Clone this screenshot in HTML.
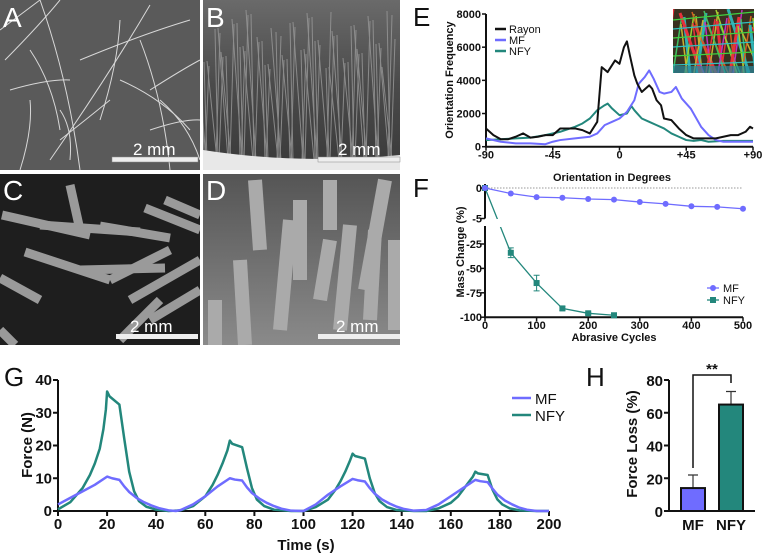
<!DOCTYPE html>
<html><head><meta charset="utf-8">
<style>
html,body{margin:0;padding:0;background:#fff;width:764px;height:556px;overflow:hidden}
svg{display:block;font-family:"Liberation Sans",Arial,sans-serif}
.tk{font-weight:bold;font-size:11px;fill:#111}
.tg{font-weight:bold;font-size:15px;fill:#111}
</style></head>
<body>
<svg id="fig" width="764" height="556" viewBox="0 0 764 556">
<defs>
<linearGradient id="gB" x1="0" y1="0" x2="0" y2="1"><stop offset="0" stop-color="#6a6a6a"/><stop offset="0.5" stop-color="#4a4a4a"/><stop offset="1" stop-color="#3a3a3a"/></linearGradient>
<linearGradient id="gD" x1="0" y1="0" x2="0" y2="1"><stop offset="0" stop-color="#555"/><stop offset="1" stop-color="#8a8a8a"/></linearGradient>
<clipPath id="cA"><rect x="0" y="0" width="200" height="170"/></clipPath>
<clipPath id="cB"><rect x="203" y="0" width="197" height="170"/></clipPath>
<clipPath id="cC"><rect x="0" y="174" width="200" height="171"/></clipPath>
<clipPath id="cD"><rect x="203" y="174" width="197" height="171"/></clipPath>
<clipPath id="cI"><rect x="673" y="9" width="81" height="64"/></clipPath>
</defs>

<g clip-path="url(#cA)">
<rect x="0" y="0" width="200" height="170" fill="#5a5a5a"/>
<g id="fibA" stroke="#d8d8d8" stroke-width="1" fill="none"></g>
</g>
<g clip-path="url(#cB)">
<rect x="203" y="0" width="197" height="170" fill="url(#gB)"/>
<g id="fibB" stroke="#9a9a9a" stroke-width="1" fill="none" opacity="0.8"></g>
<path d="M203,150 Q300,165 400,155 L400,170 L203,170 Z" fill="#e8e8e8"/>
</g>
<g clip-path="url(#cC)">
<rect x="0" y="174" width="200" height="171" fill="#1e1e1e"/>
<g id="rodC" stroke="#9a9a9a" stroke-width="9" stroke-linecap="butt" fill="none"></g>
</g>
<g clip-path="url(#cD)">
<rect x="203" y="174" width="197" height="171" fill="url(#gD)"/>
<g id="rodD" stroke="#aaa" stroke-width="14" fill="none"></g>
</g>
<g>
<rect x="112" y="157" width="86" height="5" fill="#eee" stroke="#888" stroke-width="0.5"/>
<rect x="318" y="157" width="82" height="5" fill="#eee" stroke="#888" stroke-width="0.5"/>
<rect x="116" y="334" width="82" height="5" fill="#eee"/>
<rect x="318" y="334" width="82" height="5" fill="#eee"/>
<g font-size="17" fill="#fff">
<text x="133" y="155">2 mm</text><text x="338" y="155">2 mm</text>
<text x="130" y="332">2 mm</text><text x="336" y="332">2 mm</text>
</g>
</g>
<g font-size="28" fill="#fff">
<text x="3" y="27">A</text><text x="206" y="27">B</text><text x="3" y="200">C</text><text x="206" y="200">D</text>
</g>

<g font-size="26" fill="#111">
<text x="413" y="26">E</text><text x="413" y="197">F</text><text x="4" y="386">G</text><text x="586" y="386">H</text>
</g>

<g id="chartE"></g>
<g clip-path="url(#cI)">
<rect x="673" y="9" width="81" height="64" fill="#3a3020"/>
<g id="insetLines" stroke-width="2"></g>
</g>
<g id="chartF"></g>
<g id="chartG"></g>
<g id="chartH"></g>
</svg>
<script>
// ---------- Panel E data ----------
const eRayonX=[-90,-85,-80,-75,-70,-65,-60,-55,-50,-45,-40,-35,-30,-25,-20,-15,-12,-8,-3,0,3,5,7,10,12,15,20,22,25,28,30,35,40,45,50,55,60,65,70,75,80,85,88,90];
const eRayonY=[1100,700,450,450,600,800,550,600,700,700,1100,1100,1100,1000,800,1500,4800,4500,5200,5000,6000,6350,5500,4300,3800,3300,3700,3500,2800,2500,1700,1600,1100,700,500,500,500,500,600,700,700,900,1200,1100];
const eMFX=[-90,-80,-70,-60,-50,-45,-40,-30,-20,-15,-10,-5,0,5,10,13,17,20,23,27,30,35,38,42,48,55,60,65,70,80,90];
const eMFY=[500,300,200,200,150,300,400,500,600,800,1300,1500,1700,2100,2800,3800,4200,4600,4100,3300,3200,3300,3600,2900,2300,1200,700,400,300,300,300];
const eNFYX=[-90,-80,-70,-60,-50,-40,-30,-25,-20,-15,-10,-8,-5,0,5,8,10,15,20,25,30,35,40,45,50,55,60,70,80,90];
const eNFYY=[400,450,500,550,700,900,1200,1400,1700,2200,2500,2600,2300,1900,2000,2450,2200,1700,1500,1300,1100,800,600,400,350,400,300,350,350,350];
const eXTicks=[-90,-45,0,45,90];
const eXTickLabels=["-90","-45","0","+45","+90"];
const eYTicks=[0,2000,4000,6000,8000];
// ---------- Panel F data ----------
const fCycles=[0,50,100,150,200,250,300,350,400,450,500];
const fMF=[0,-0.9,-1.5,-1.6,-1.8,-1.9,-2.3,-2.6,-3.0,-3.1,-3.4];
const fNFYCycles=[0,50,100,150,200,250];
const fNFY=[0,-34,-65,-91,-96,-98];
const fNFYErr=[0,5,8,2,1,0];
const fXTicks=[0,100,200,300,400,500];
const fYTicksTop=[0,-5];
const fYTicksBottom=[-25,-50,-75,-100];
// ---------- Panel G data ----------
const gNFYT=[0,5,10,13,15,17,18.5,19.5,20,21,25,27,29,31,33,36,40,45,50,55,60,63,65,67,69,70,71,75,77,79,81,84,88,95,100,105,110,113,115,117,119,120,121,125,127,129,131,134,138,145,150,155,160,163,165,167,169,170,171,175,177,179,181,184,188,195,200];
const gNFYF=[0.5,2.7,7,11,14.5,19,25,31,36.5,35,32.5,22,12,6,3,1.3,0.4,0,0.2,1.5,4.5,8,11,14.5,18.5,21.5,20.5,19.5,13,7,3.5,1.5,0.4,0,0,1.2,3.5,6.5,9,12,15.5,17.5,16.8,16,10,5.5,3,1.2,0.3,0,0,0.8,2.5,4.5,6.5,8.5,10.5,12,11.5,11,6.5,3.5,2,0.8,0.2,0,0];
const gMFT=[0,5,10,15,20,22,25,27,29,32,35,38,41,45,48,50,55,60,65,70,72,75,77,79,82,85,88,91,95,100,105,110,115,120,122,125,127,129,132,135,138,141,145,150,155,160,165,170,172,175,177,179,182,185,188,191,195,200];
const gMFF=[2,4,6,8,10.5,10,9.5,7.5,5.8,4,2.7,1.7,0.9,0.2,0,0.3,2,4.5,7.5,10,9.6,9.3,7.2,5.5,3.8,2.5,1.5,0.7,0.1,0,2,5,7.5,9.8,9.4,9,7,5.3,3.5,2.3,1.3,0.6,0.1,0.3,2,4.5,7,9.5,9.1,8.8,6.8,5,3.2,2,1,0.4,0,0];
const gXTicks=[0,20,40,60,80,100,120,140,160,180,200];
const gYTicks=[0,10,20,30,40];
// ---------- Panel H data ----------
const hCats=["MF","NFY"];
const hVals=[14,65];
const hErr=[8,8];
const hYTicks=[0,20,40,60,80];

const NS="http://www.w3.org/2000/svg";
function mk(parent,tag,attrs,txt){const e=document.createElementNS(NS,tag);for(const k in attrs)e.setAttribute(k,attrs[k]);if(txt!==undefined)e.textContent=txt;parent.appendChild(e);return e;}
const MFC="#6f6cff", NFYC="#23877c";

// ---------- E ----------
(function(){
const g=document.getElementById('chartE');
const x=v=>486+(v+90)/180*267, y=v=>146.7-v/8000*132.7;
let ax=mk(g,'path',{d:`M${x(-90)},${y(8000)}V${y(0)}H${x(90)}`,stroke:'#111','stroke-width':2,fill:'none'});


eYTicks.forEach(v=>{mk(g,'line',{x1:x(-90)-4,x2:x(-90),y1:y(v),y2:y(v),stroke:'#111','stroke-width':1.5});
 const t=mk(g,'text',{x:x(-90)-5,y:y(v)+4,'text-anchor':'end',class:'tk'},v);
 
 });
eXTicks.forEach((v,i)=>{mk(g,'line',{x1:x(v),x2:x(v),y1:y(0),y2:y(0)+4,stroke:'#111','stroke-width':1.5});
 const t=mk(g,'text',{x:x(v),y:y(0)+12,'text-anchor':'middle',class:'tk'},eXTickLabels[i]);
 
 });
const series=[[eRayonX,eRayonY,'#111','rayon-line'],[eMFX,eMFY,MFC,'mf-line'],[eNFYX,eNFYY,NFYC,'nfy-line']];
[series[2],series[1],series[0]].forEach(s=>{const p=mk(g,'polyline',{points:s[0].map((v,i)=>x(v)+','+y(s[1][i])).join(' '),stroke:s[2],'stroke-width':2,fill:'none','stroke-linejoin':'round'});
 
 });
const yt=mk(g,'text',{x:453,y:80,transform:'rotate(-90 453 80)','text-anchor':'middle',class:'tk'},'Orientation Frequency');


const xt=mk(g,'text',{x:612,y:181,'text-anchor':'middle',class:'tk'},'Orientation in Degrees');


[['Rayon','#111'],['MF',MFC],['NFY',NFYC]].forEach((l,i)=>{const lg=mk(g,'g',{});
 
 
 mk(lg,'line',{x1:495,x2:506,y1:29+i*11,y2:29+i*11,stroke:l[1],'stroke-width':2.5});
 mk(lg,'text',{x:509,y:33+i*11,'font-size':11,fill:'#111'},l[0]);});
})();
(function(){const g=document.getElementById('insetLines');
const cols=['#e8303a','#c8b030','#40c060','#c030c0','#30b0b0','#d06020','#e8303a','#a0d030'];
for(let i=0;i<34;i++){const x0=673+(i*23)%81, c=cols[i%cols.length];
 mk(g,'line',{x1:x0,y1:9+(i*7)%20,x2:x0+((i%3)-1)*15+6,y2:73,stroke:c,'stroke-width':i%4==0?3:1.5});}
for(let i=0;i<6;i++)mk(g,'line',{x1:673,y1:20+i*9,x2:754,y2:12+i*10,stroke:i%2?'#30c0c0':'#40d040','stroke-width':1.2});
mk(g,'rect',{x:673,y:66,width:81,height:7,fill:'#2a8aa0',opacity:0.7});})();

// ---------- F ----------
(function(){
const g=document.getElementById('chartF');
const x=v=>485+v/500*258;
const y=v=>v>=-5?188+(-v)/5*30.5:244+(-25-v)/25*24.4;
mk(g,'path',{d:`M${x(0)},${y(0)-4}V${y(-5)}M${x(0)},226V${y(-100)}H${x(500)}`,stroke:'#111','stroke-width':2,fill:'none'});
mk(g,'line',{x1:x(0),x2:x(500),y1:y(0),y2:y(0),stroke:'#777','stroke-width':0.8,'stroke-dasharray':'1.5,1.5'});
fYTicksTop.concat(fYTicksBottom).forEach(v=>{mk(g,'line',{x1:x(0)-4,x2:x(0),y1:y(v),y2:y(v),stroke:'#111','stroke-width':1.5});
 const t=mk(g,'text',{x:x(0)-3,y:y(v)+4,'text-anchor':'end',class:'tk'},v);
 
 });
fXTicks.forEach(v=>{mk(g,'line',{x1:x(v),x2:x(v),y1:y(-100),y2:y(-100)+4,stroke:'#111','stroke-width':1.5});
 const t=mk(g,'text',{x:x(v),y:y(-100)+12,'text-anchor':'middle',class:'tk'},v);
 
 });
const pn=mk(g,'polyline',{points:fNFYCycles.map((c,i)=>x(c)+','+y(fNFY[i])).join(' '),stroke:NFYC,'stroke-width':1.3,fill:'none'});


mk(g,'rect',{x:x(0)+4,y:219,width:14,height:8,fill:'#fff'});
fNFYCycles.forEach((c,i)=>{if(fNFYErr[i]>0){mk(g,'path',{d:`M${x(c)-3},${y(fNFY[i]+fNFYErr[i])}h6M${x(c)},${y(fNFY[i]+fNFYErr[i])}V${y(fNFY[i]-fNFYErr[i])}M${x(c)-3},${y(fNFY[i]-fNFYErr[i])}h6`,stroke:NFYC,'stroke-width':1,fill:'none'});}
 const m=mk(g,'rect',{x:x(c)-3,y:y(fNFY[i])-3,width:6,height:6,fill:NFYC});
 
 });
const pm=mk(g,'polyline',{points:fCycles.map((c,i)=>x(c)+','+y(fMF[i])).join(' '),stroke:MFC,'stroke-width':1.3,fill:'none'});


fCycles.forEach((c,i)=>{const m=mk(g,'circle',{cx:x(c),cy:y(fMF[i]),r:3,fill:MFC});
 
 });
const yt=mk(g,'text',{x:464,y:252,transform:'rotate(-90 464 252)','text-anchor':'middle',class:'tk','font-size':10},'Mass Change (%)');


const xt=mk(g,'text',{x:614,y:341,'text-anchor':'middle',class:'tk'},'Abrasive Cycles');


const l1=mk(g,'g',{});


mk(l1,'line',{x1:707,x2:719,y1:288,y2:288,stroke:MFC,'stroke-width':1.3});mk(l1,'circle',{cx:713,cy:288,r:3,fill:MFC});
mk(l1,'text',{x:723,y:292,'font-size':11,fill:'#111'},'MF');
const l2=mk(g,'g',{});


mk(l2,'line',{x1:707,x2:719,y1:300,y2:300,stroke:NFYC,'stroke-width':1.3});mk(l2,'rect',{x:710,y:297,width:6,height:6,fill:NFYC});
mk(l2,'text',{x:723,y:304,'font-size':11,fill:'#111'},'NFY');
})();

// ---------- G ----------
(function(){
const g=document.getElementById('chartG');
const x=v=>58+v/200*491, y=v=>511-v/40*131;
mk(g,'path',{d:`M${x(0)},${y(40)}V${y(0)}H${x(200)}`,stroke:'#111','stroke-width':2,fill:'none'});
gYTicks.forEach(v=>{mk(g,'line',{x1:x(0)-5,x2:x(0),y1:y(v),y2:y(v),stroke:'#111','stroke-width':2});
 const t=mk(g,'text',{x:x(0)-6,y:y(v)+5,'text-anchor':'end',class:'tg'},v);
 
 });
gXTicks.forEach(v=>{mk(g,'line',{x1:x(v),x2:x(v),y1:y(0),y2:y(0)+5,stroke:'#111','stroke-width':2});
 const t=mk(g,'text',{x:x(v),y:y(0)+18,'text-anchor':'middle',class:'tg'},v);
 
 });
const pn=mk(g,'polyline',{points:gNFYT.map((t,i)=>x(t)+','+y(gNFYF[i])).join(' '),stroke:NFYC,'stroke-width':2.5,fill:'none','stroke-linejoin':'round'});


const pm=mk(g,'polyline',{points:gMFT.map((t,i)=>x(t)+','+y(gMFF[i])).join(' '),stroke:MFC,'stroke-width':2.5,fill:'none','stroke-linejoin':'round'});


const yt=mk(g,'text',{x:32,y:445,transform:'rotate(-90 32 445)','text-anchor':'middle',class:'tg'},'Force (N)');


const xt=mk(g,'text',{x:306,y:550,'text-anchor':'middle',class:'tg'},'Time (s)');


[['MF',MFC],['NFY',NFYC]].forEach((l,i)=>{const lg=mk(g,'g',{});
 
 
 mk(lg,'line',{x1:512,x2:531,y1:398+i*17,y2:398+i*17,stroke:l[1],'stroke-width':2.5});
 mk(lg,'text',{x:535,y:404+i*17,'font-size':15,fill:'#111'},l[0]);});
})();

// ---------- H ----------
(function(){
const g=document.getElementById('chartH');
const y=v=>511-v/80*131;
const bx=[681,719], bw=24, cols=[MFC,NFYC];
mk(g,'path',{d:`M669,${y(80)}V${y(0)}H755`,stroke:'#111','stroke-width':2,fill:'none'});
hYTicks.forEach(v=>{mk(g,'line',{x1:664,x2:669,y1:y(v),y2:y(v),stroke:'#111','stroke-width':2});
 const t=mk(g,'text',{x:663,y:y(v)+6,'text-anchor':'end',class:'tg','font-size':16},v);
 
 });
hCats.forEach((c,i)=>{const cx=bx[i]+bw/2;
 mk(g,'path',{d:`M${cx},${y(hVals[i])}V${y(hVals[i]+hErr[i])}M${cx-5},${y(hVals[i]+hErr[i])}h10`,stroke:'#333','stroke-width':1.2,fill:'none'});
 const b=mk(g,'rect',{x:bx[i],y:y(hVals[i]),width:bw,height:y(0)-y(hVals[i]),fill:cols[i],stroke:'#111','stroke-width':2});
 
 
 const t=mk(g,'text',{x:cx,y:530,'text-anchor':'middle',class:'tg','font-size':16},c);
 
 });
const br=mk(g,'path',{d:`M693,468V375H731V383`,stroke:'#111','stroke-width':1.5,fill:'none'});


const st=mk(g,'text',{x:712,y:374,'text-anchor':'middle',class:'tg','font-size':14},'**');


const yt=mk(g,'text',{x:637,y:444,transform:'rotate(-90 637 444)','text-anchor':'middle',class:'tg'},'Force Loss (%)');


})();

(function(){
const a=document.getElementById('fibA');
const fa=[[5,60,60,0],[20,170,30,100],[40,0,80,170],[50,160,150,5],[10,90,70,80],[140,40,170,170],[100,120,120,20],[80,60,190,20],[150,90,200,60],[160,100,200,160],[60,140,110,100],[0,30,40,0],[120,80,190,130],[150,130,200,120],[30,50,60,130],[70,160,60,110]];
fa.forEach(f=>mk(a,'path',{d:`M${f[0]},${f[1]}Q${(f[0]+f[2])/2+8},${(f[1]+f[3])/2-6} ${f[2]},${f[3]}`}));
const b=document.getElementById('fibB');
for(let i=0;i<70;i++){const x0=203+(i*37)%197, top=10+(i*13)%60;mk(b,'line',{x1:x0,y1:160,x2:x0+((i*7)%21)-10,y2:top});}
const c=document.getElementById('rodC');
[[2,215,90,235],[70,185,80,230],[40,225,140,232],[100,226,170,238],[25,252,110,280],[0,278,40,300],[145,208,200,230],[110,280,170,250],[130,300,200,260],[150,320,200,290],[80,270,165,268],[165,200,200,215],[120,340,160,300],[0,330,15,345]].forEach(r=>mk(c,'line',{x1:r[0],y1:r[1],x2:r[2],y2:r[3]}));
const d=document.getElementById('rodD');
[[215,345,215,300],[245,345,240,260],[280,330,290,220],[300,280,300,200],[320,300,330,240],[340,330,350,225],[370,320,375,230],[395,330,395,240],[365,290,385,180],[260,250,255,180],[330,230,330,180]].forEach(r=>mk(d,'line',{x1:r[0],y1:r[1],x2:r[2],y2:r[3]}));
})();
</script>
</body></html>
